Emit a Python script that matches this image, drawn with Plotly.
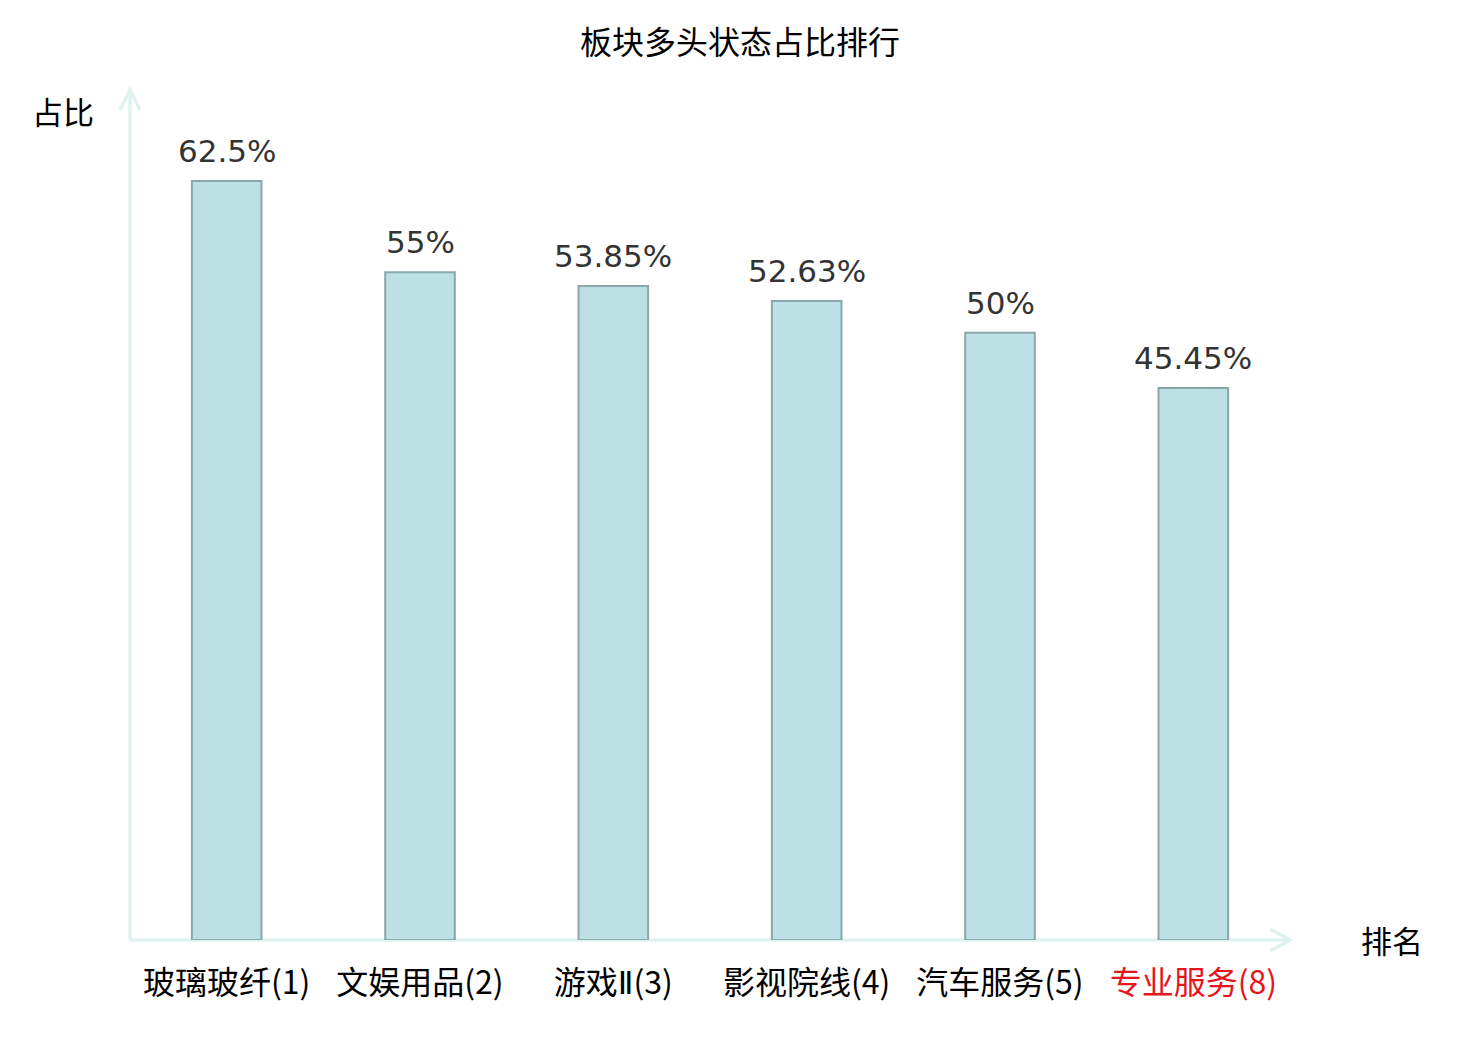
import plotly.graph_objects as go

# 数据
categories = ["玻璃玻纤(1)", "文娱用品(2)", "游戏Ⅱ(3)", "影视院线(4)", "汽车服务(5)", "专业服务(8)"]
values = [62.5, 55, 53.85, 52.63, 50, 45.45]
value_labels = ["62.5%", "55%", "53.85%", "52.63%", "50%", "45.45%"]
highlight = ["专业服务(8)"]

FONT = "DejaVu Sans, Noto Sans CJK SC, sans-serif"
CJK_FONT = "Noto Sans CJK SC, sans-serif"
AXIS_COLOR = "#dff2ef"


def tick_label(c):
    # 罗马数字用窄一点的字体，高亮的板块标红
    c = c.replace("Ⅱ", "<span style='font-family:DejaVu Sans'>Ⅱ</span>")
    if any(h in c for h in highlight):
        c = f"<span style='color:#e8141c'>{c}</span>"
    return c


tick_text = [tick_label(c) for c in categories]

fig = go.Figure(
    go.Bar(
        x=categories,
        y=values,
        marker=dict(color="#bce0e3", line=dict(color="#8aa7a9", width=2)),
        width=0.36,
        hoverinfo="x+y",
    )
)

# 柱顶的数值标签
for c, v, t in zip(categories, values, value_labels):
    fig.add_annotation(
        x=c, y=v, text=t, showarrow=False, yanchor="bottom", yshift=10,
        font=dict(size=31, color="#333333", family=FONT),
    )

# 坐标轴线和箭头
fig.add_shape(type="line", xref="paper", yref="paper", x0=0, x1=0, y0=0, y1=1,
              line=dict(color=AXIS_COLOR, width=3.5), layer="below")
fig.add_shape(type="line", xref="paper", yref="paper", x0=0, x1=1, y0=0, y1=0,
              line=dict(color=AXIS_COLOR, width=3.5), layer="below")
fig.add_shape(type="path", xref="paper", yref="paper", xsizemode="pixel", ysizemode="pixel",
              xanchor=0, yanchor=1, path="M -10,-20 L 0,0 L 10,-20",
              line=dict(color=AXIS_COLOR, width=3.5))
fig.add_shape(type="path", xref="paper", yref="paper", xsizemode="pixel", ysizemode="pixel",
              xanchor=1, yanchor=0, path="M -20,11 L 0,0 L -20,-11",
              line=dict(color=AXIS_COLOR, width=3.5))

fig.add_annotation(text="占比", xref="paper", yref="paper", x=0, y=1, xshift=-67, yshift=-20,
                   xanchor="center", yanchor="middle", showarrow=False,
                   font=dict(size=31, color="#000000", family=CJK_FONT))
fig.add_annotation(text="排名", xref="paper", yref="paper", x=1, y=0, xshift=102, yshift=1,
                   xanchor="center", yanchor="middle", showarrow=False,
                   font=dict(size=31, color="#000000", family=CJK_FONT))

fig.update_layout(
    width=1480,
    height=1040,
    margin=dict(l=122, r=198, t=82, b=108),
    plot_bgcolor="white",
    paper_bgcolor="white",
    title=dict(text="板块多头状态占比排行", x=0.4946, xanchor="center", y=0.967, yanchor="middle",
               font=dict(size=32, color="#000000", family=CJK_FONT)),
    showlegend=False,
    font=dict(family=FONT),
)
fig.update_xaxes(
    tickvals=categories, ticktext=tick_text,
    showline=False, showgrid=False, zeroline=False,
    ticks="outside", ticklen=15, tickcolor="rgba(0,0,0,0)",
    tickfont=dict(size=32, color="#000000", family=CJK_FONT),
)
fig.update_yaxes(range=[0, 70], visible=False)

fig.write_html("out.html")
